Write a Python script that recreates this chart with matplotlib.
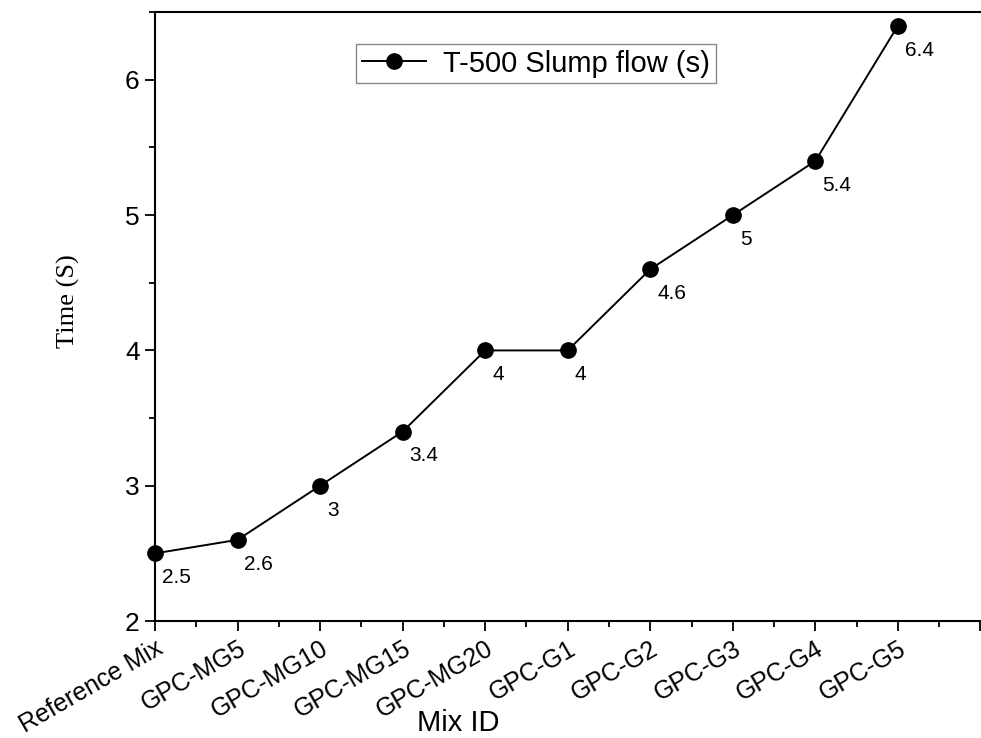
import matplotlib.pyplot as plt
from matplotlib.ticker import MultipleLocator
from matplotlib.transforms import ScaledTranslation

# Mezclas y tiempo T-500
mezclas = ["Reference Mix", "GPC-MG5", "GPC-MG10", "GPC-MG15", "GPC-MG20",
           "GPC-G1", "GPC-G2", "GPC-G3", "GPC-G4", "GPC-G5"]
tiempos = [2.5, 2.6, 3, 3.4, 4, 4, 4.6, 5, 5.4, 6.4]
etiquetas = ["2.5", "2.6", "3", "3.4", "4", "4", "4.6", "5", "5.4", "6.4"]

fig = plt.figure(figsize=(9.81, 7.38), dpi=100)
ax = fig.add_axes([0.158, 0.1585, 0.8835, 0.825])

x = list(range(len(mezclas)))
ax.plot(x, tiempos, color="black", linewidth=1.4, marker="o",
        markersize=11, label="T-500 Slump flow (s)", clip_on=False, zorder=3)

# Valores junto a cada punto
for xi, yi, txt in zip(x, tiempos, etiquetas):
    ax.annotate(txt, (xi, yi), xytext=(5, -17.5), textcoords="offset points",
                fontsize=15, family="Liberation Sans", va="center")

ax.set_xlim(0, 10.5)
ax.set_ylim(2, 6.5)
ax.set_xticks(x + [10])
ax.set_xticklabels(mezclas + ["."], rotation=30, ha="right",
                   rotation_mode="anchor", fontsize=18, family="Liberation Sans")
desplaz = ScaledTranslation(15 / 100, -4 / 100, fig.dpi_scale_trans)
for lab in ax.get_xticklabels():
    lab.set_transform(lab.get_transform() + desplaz)
ax.xaxis.set_minor_locator(MultipleLocator(0.5))
ax.yaxis.set_major_locator(MultipleLocator(1))
ax.yaxis.set_minor_locator(MultipleLocator(0.5))
for lab in ax.get_yticklabels():
    lab.set_family("Liberation Sans")
    lab.set_fontsize(19)

ax.tick_params(which="major", direction="out", length=7, width=1.3, pad=4)
ax.tick_params(which="minor", direction="out", length=4, width=1.3)
for s in ax.spines.values():
    s.set_linewidth(1.5)

ax.set_xlabel("Mix ID", fontsize=21, family="Liberation Sans")
ax.xaxis.set_label_coords(0.35, -0.145)
ax.set_ylabel("Time (S)", fontsize=19, family="Liberation Serif")
ax.yaxis.set_label_coords(-0.086, 0.525)

leg = ax.legend(loc="upper left", bbox_to_anchor=(0.215, 0.972),
                prop={"family": "Liberation Sans", "size": 21},
                fancybox=False, edgecolor="#888888", framealpha=1,
                handlelength=2.2, handletextpad=0.6, borderpad=0.2)
leg.get_frame().set_linewidth(1.0)

plt.savefig("out.png", dpi=100)
plt.close()
